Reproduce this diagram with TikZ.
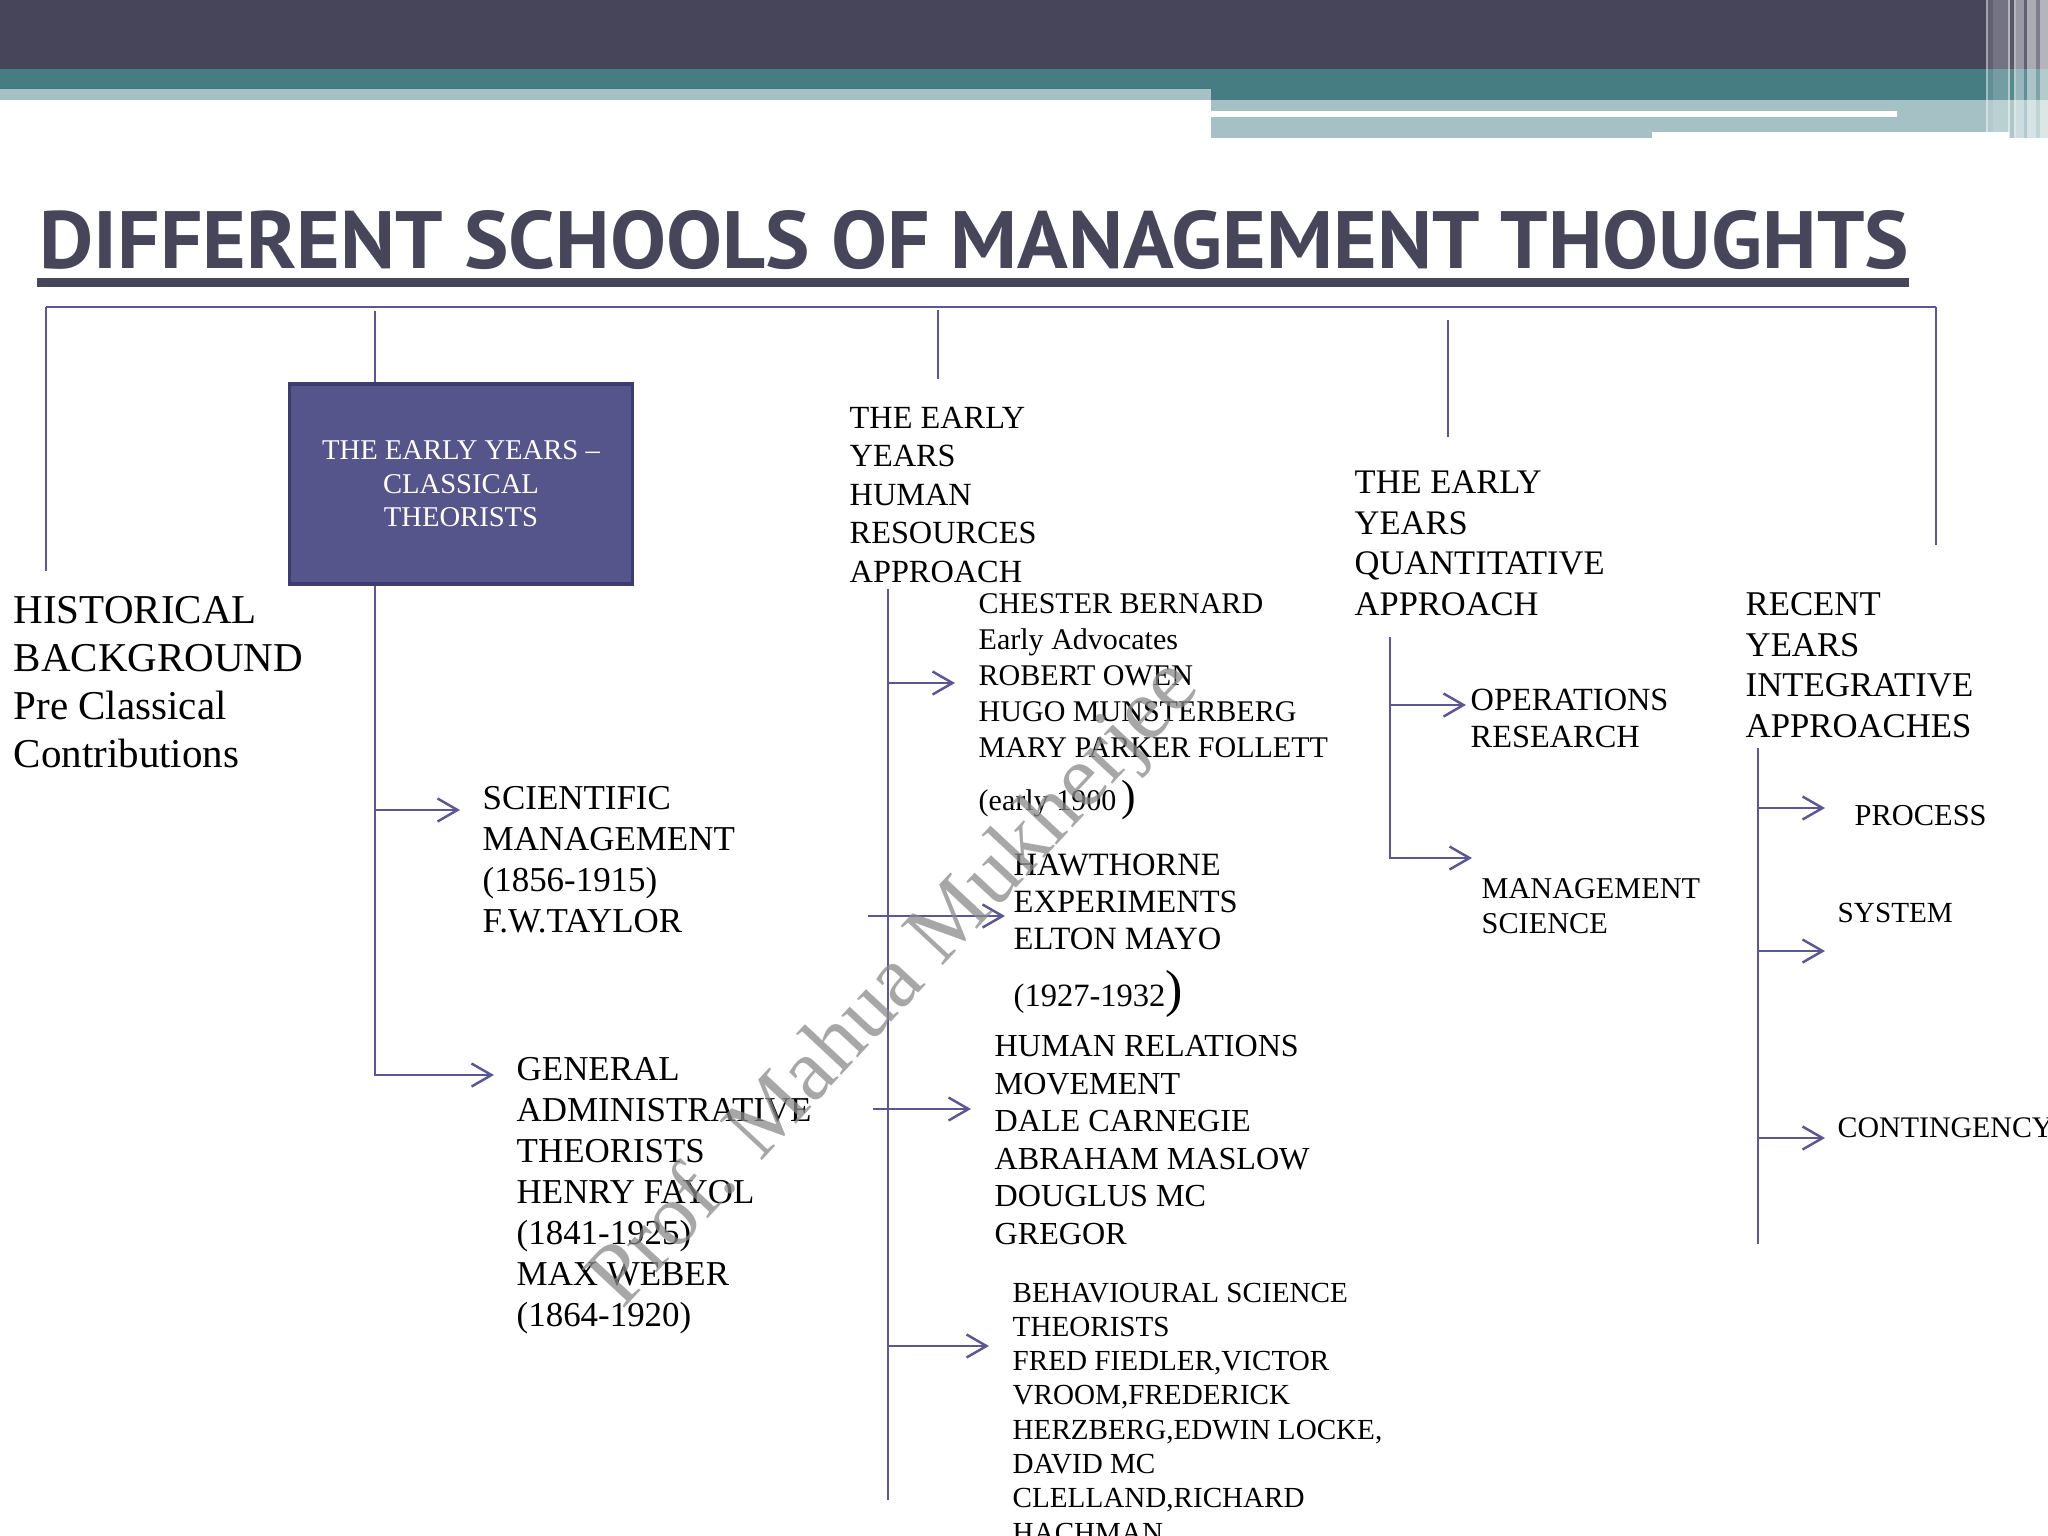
\documentclass[tikz,border=0pt]{standalone}
\usepackage{fontspec}
\usepackage{graphicx}
\setmainfont{Liberation Serif}
\newfontfamily\titlefont{PT Sans}
\usepackage{tikz}
\usetikzlibrary{positioning, arrows.meta, calc}
\definecolor{BannerDark}{HTML}{46455A}
\definecolor{BannerTeal}{HTML}{457D83}
\definecolor{BannerLight}{HTML}{A5C1C5}
\definecolor{TitleInk}{HTML}{46455A}
\definecolor{LinkViolet}{HTML}{5A5794}
\definecolor{BoxFill}{HTML}{56558B}
\definecolor{BoxEdge}{HTML}{3D3C6E}
\definecolor{MarkGray}{HTML}{8A8A8A}
\tikzset{
  conn/.style={draw=LinkViolet, line width=0.7pt},
  branch/.style={conn, -{Straight Barb[length=2mm, width=2.3mm]}},
  itemtext/.style={anchor=north west, inner sep=0pt, align=left, text=black},
  headbox/.style={draw=BoxEdge, line width=0.9pt, fill=BoxFill, text=white,
    minimum width=3.42cm, minimum height=2cm, inner sep=0pt, align=center},
  watermark/.style={text=MarkGray, text opacity=0.75, rotate=47, inner sep=0pt},
}

\begin{document}
\begin{tikzpicture}[x=0.01cm, y=-0.01cm]
  \useasboundingbox (0,0) rectangle (2048,1536);
  \fill[white] (0,0) rectangle (2048,1536);
  % banner
  \fill[BannerDark] (0,0) rectangle (2048,69);
  \fill[BannerTeal] (0,69) rectangle (2048,100);
  \fill[BannerLight] (0,89) rectangle (1211,100);
  \fill[BannerLight] (1211,100) rectangle (2009,132);
  \fill[white] (1211,111) rectangle (1897,117);
  \fill[BannerLight] (1211,132) rectangle (1652,138);
  \fill[BannerLight] (2009,100) rectangle (2048,138);
  \foreach \xa/\xb/\op in {1986/1988/0.5, 1988/1993/0.15, 1993/2008/0.25, 2008/2010/0.6,
      2010/2014/0.1, 2014/2016/0.6, 2016/2024/0.45, 2024/2027/0.15, 2027/2036/0.55,
      2036/2040/0.3, 2040/2048/0.6}
    \fill[white, opacity=\op] (\xa,0) rectangle (\xb,138);

  \node[anchor=base west, inner sep=0pt, text=TitleInk] (title) at (39,268)
    {\resizebox{18.68cm}{0.58cm}{\titlefont\bfseries DIFFERENT SCHOOLS OF MANAGEMENT THOUGHTS}};
  \fill[TitleInk] (37,278) rectangle (1909,287);

  % text blocks
  \node[itemtext, font=\fontsize{11.66pt}{13.6pt}\selectfont] (hist) at (13,596)
    {HISTORICAL\\BACKGROUND\\Pre Classical\\Contributions};
  \node[headbox, font=\fontsize{8.14pt}{9.53pt}\selectfont] (cls) at (461,484)
    {THE EARLY YEARS --\\CLASSICAL\\THEORISTS};
  \node[itemtext, font=\fontsize{9.93pt}{11.64pt}\selectfont] (sci) at (482,786)
    {SCIENTIFIC\\MANAGEMENT\\(1856-1915)\\F.W.TAYLOR};
  \node[itemtext, font=\fontsize{9.93pt}{11.64pt}\selectfont] (gen) at (516,1057)
    {GENERAL\\ADMINISTRATIVE\\THEORISTS\\HENRY FAYOL\\(1841-1925)\\MAX WEBER\\(1864-1920)};
  \node[itemtext, font=\fontsize{9.19pt}{10.95pt}\selectfont] (hrhead) at (849,406)
    {THE EARLY\\YEARS\\HUMAN\\RESOURCES\\APPROACH};
  \node[itemtext, font=\fontsize{8.54pt}{10.24pt}\selectfont] (chester) at (978,593)
    {CHESTER BERNARD\\Early Advocates\\ROBERT OWEN\\HUGO MUNSTERBERG\\MARY PARKER FOLLETT\\[4.8pt]
     (early 1900\,{\fontsize{12.4pt}{12pt}\selectfont)}};
  \node[itemtext, font=\fontsize{9.25pt}{10.5pt}\selectfont] (hawthorne) at (1013,853)
    {HAWTHORNE\\EXPERIMENTS\\ELTON MAYO\\[5.7pt](1927-1932{\fontsize{14.8pt}{14pt}\selectfont)}};
  \node[itemtext, font=\fontsize{9.13pt}{10.64pt}\selectfont] (hrmove) at (994,1035)
    {HUMAN RELATIONS\\MOVEMENT\\DALE CARNEGIE\\ABRAHAM MASLOW\\DOUGLUS MC\\GREGOR};
  \node[itemtext, font=\fontsize{8.28pt}{9.76pt}\selectfont] (behav) at (1012,1282)
    {BEHAVIOURAL SCIENCE\\THEORISTS\\FRED FIEDLER,VICTOR\\VROOM,FREDERICK\\HERZBERG,EDWIN LOCKE,\\DAVID MC\\CLELLAND,RICHARD\\HACHMAN};
  \node[itemtext, font=\fontsize{9.8pt}{11.55pt}\selectfont] (quant) at (1354,470)
    {THE EARLY\\YEARS\\QUANTITATIVE\\APPROACH};
  \node[itemtext, font=\fontsize{9.2pt}{10.5pt}\selectfont] (opres) at (1470,688)
    {OPERATIONS\\RESEARCH};
  \node[itemtext, font=\fontsize{8.6pt}{9.96pt}\selectfont] (mgsci) at (1481,878)
    {MANAGEMENT\\SCIENCE};
  \node[itemtext, font=\fontsize{9.87pt}{11.55pt}\selectfont] (recent) at (1745,592)
    {RECENT\\YEARS\\INTEGRATIVE\\APPROACHES};
  \node[itemtext, font=\fontsize{8.65pt}{10pt}\selectfont] (process) at (1854,805) {PROCESS};
  \node[itemtext, font=\fontsize{8.3pt}{10pt}\selectfont] (system) at (1837,902) {SYSTEM};
  \node[itemtext, font=\fontsize{8.5pt}{10pt}\selectfont] (contingency) at (1837,1117) {CONTINGENCY};

  % bus and drops
  \coordinate (busL) at (46,307);
  \coordinate (busR) at (1936,307);
  \coordinate (dropHist) at (46,571);
  \coordinate (dropCls) at (375,311);
  \coordinate (dropHRa) at (938,310);
  \coordinate (dropHRb) at (938,379);
  \coordinate (dropQa) at (1448,320);
  \coordinate (dropQb) at (1448,437);
  \coordinate (dropRecent) at (1936,545);
  \draw[conn] (busL) -- (busR);
  \draw[conn] (busL) -- (dropHist);
  \draw[conn] (dropCls) -- (dropCls |- cls.north);
  \draw[conn] (dropHRa) -- (dropHRb);
  \draw[conn] (dropQa) -- (dropQb);
  \draw[conn] (busR) -- (dropRecent);

  % classical branches
  \coordinate (clsTrunk) at (cls.south -| dropCls);
  \coordinate (sciTip) at (460,810);
  \coordinate (genTip) at (494,1075);
  \draw[branch] (clsTrunk) |- (genTip);
  \draw[branch] (clsTrunk |- sciTip) -- (sciTip);

  % human resources branches
  \coordinate (hrTop) at (888,589);
  \coordinate (hrBot) at (888,1500);
  \coordinate (chTip) at (955,683);
  \coordinate (hawStart) at (868,916);
  \coordinate (hawTip) at (1005,916);
  \coordinate (hrmStart) at (873,1109);
  \coordinate (hrmTip) at (971,1109);
  \coordinate (bsTip) at (989,1346);
  \draw[conn] (hrTop) -- (hrBot);
  \draw[branch] (hrTop |- chTip) -- (chTip);
  \draw[branch] (hawStart) -- (hawTip);
  \draw[branch] (hrmStart) -- (hrmTip);
  \draw[branch] (hrTop |- bsTip) -- (bsTip);

  % quantitative branches
  \coordinate (qTop) at (1390,637);
  \coordinate (orTip) at (1466,705);
  \coordinate (msTip) at (1472,858);
  \draw[branch] (qTop) |- (msTip);
  \draw[branch] (qTop |- orTip) -- (orTip);

  % recent branches
  \coordinate (rTop) at (1758,748);
  \coordinate (rBot) at (1758,1244);
  \draw[conn] (rTop) -- (rBot);
  \foreach \nm/\y in {procTip/808, sysTip/951, contTip/1138} {
    \coordinate (\nm) at (1825,\y);
    \draw[branch] (rTop |- \nm) -- (\nm);
  }

  \node[watermark, font=\fontsize{25pt}{25pt}\selectfont] (mark) at (896,985) {Prof. Mahua Mukherjee};
\end{tikzpicture}
\end{document}
